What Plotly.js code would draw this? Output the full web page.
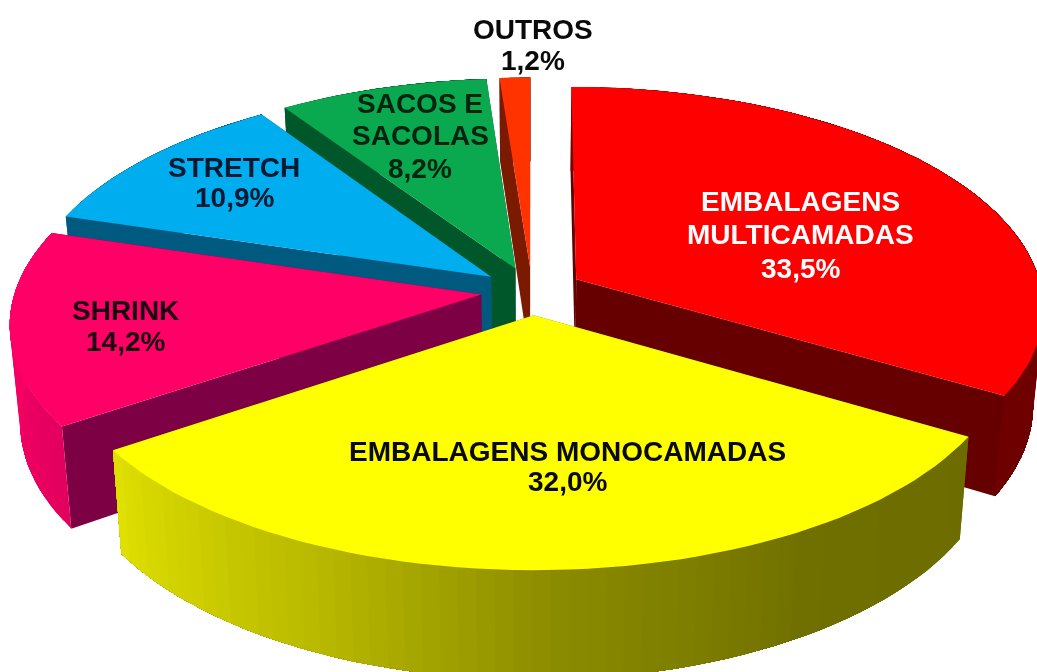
<!DOCTYPE html>
<html><head><meta charset="utf-8">
<script src="https://cdn.plot.ly/plotly-3.0.1.min.js"></script>
<style>html,body{margin:0;padding:0;background:#fff}#chart{width:1037px;height:672px;filter:blur(0.45px)}</style>
</head><body><div id="chart"></div>
<script>
// ---- data ----
const categories = ["EMBALAGENS MULTICAMADAS","EMBALAGENS MONOCAMADAS","SHRINK","STRETCH","SACOS E SACOLAS","OUTROS"];
const values = [33.5,32.0,14.2,10.9,8.2,1.2];
// ---- styles ----
const topColors = ["#ff0000","#ffff00","#ff0066","#00aeef","#0aa84f","#ff3300"];
const cutColors = ["#660000","#6e6e00","#7d0045","#005a80","#00582a","#7a1a00"];
const wallStops = [
  [[0,"#7a0000"],[1,"#6e0000"]],
  [[0,"#6c6c00"],[0.25,"#707000"],[0.5,"#8c8c00"],[0.72,"#b8b800"],[1,"#e0e000"]],
  [[0,"#e2005e"],[0.4,"#f20062"],[1,"#ff0066"]],
  [[0,"#005a80"],[1,"#005a80"]],
  [[0,"#00582a"],[1,"#00582a"]],
  [[0,"#7a1a00"],[1,"#7a1a00"]]
];
const drawOrder = [5,4,3,2,0,1];
const labelLines = [
  {i:0,x:800,y:[201,234],pct:268,color:"#ffffff",lines:["EMBALAGENS","MULTICAMADAS"]},
  {i:1,x:567,y:[451],pct:481,color:"#0a0a0a",lines:["EMBALAGENS MONOCAMADAS"]},
  {i:2,x:125,y:[310],pct:341,color:"#1a0010",lines:["SHRINK"]},
  {i:3,x:234,y:[167],pct:197,color:"#001a33",lines:["STRETCH"]},
  {i:4,x:420,y:[103,135],pct:168,color:"#00240f",lines:["SACOS E","SACOLAS"]},
  {i:5,x:533,y:[29],pct:60,color:"#0a0a0a",lines:["OUTROS"]}
];
// ---- view of the disc ----
const cx=532, cy=291, A=466, B=218, KX=0.125, KY=0.12, DEPTH=95, BOTTOM_SCALE=0.98, EXPLODE=0.11;

function project(u,v,down){
  const wx=1/(1-KX*v), wy=1/(1-KY*v);
  let x=cx+A*u*wx, y=cy+B*v*wy;
  if(down){ x=cx+(x-cx)*BOTTOM_SCALE; y+=DEPTH*wy; }
  return [x,y];
}
function hex(c){return [1,3,5].map(k=>parseInt(c.substr(k,2),16));}
function mix(stops,t){
  for(let k=1;k<stops.length;k++){
    if(t<=stops[k][0]){
      const f=(t-stops[k-1][0])/(stops[k][0]-stops[k-1][0]);
      const a=hex(stops[k-1][1]),b=hex(stops[k][1]);
      return "rgb("+a.map((q,n)=>Math.round(q+(b[n]-q)*f)).join(",")+")";
    }
  }
  return stops[stops.length-1][1];
}
const traces=[];
function poly(pts,color){
  traces.push({type:"scatter",mode:"lines",x:pts.map(p=>p[0]),y:pts.map(p=>p[1]),
    fill:"toself",fillcolor:color,line:{width:0},hoverinfo:"skip",showlegend:false});
}
const total=values.reduce((a,b)=>a+b,0);
const starts=[];let acc=0;
values.forEach(v=>{starts.push(acc);acc+=v;});
drawOrder.forEach(i=>{
  const a0=starts[i]/total*2*Math.PI, a1=(starts[i]+values[i])/total*2*Math.PI, m=(a0+a1)/2;
  const ou=EXPLODE*Math.sin(m), ov=-EXPLODE*Math.cos(m);
  const rim=a=>[ou+Math.sin(a),ov-Math.cos(a)];
  const apexTop=project(ou,ov,false), apexBot=project(ou,ov,true);
  const n=Math.max(2,Math.ceil((a1-a0)/(Math.PI/90)));
  const pts=[];for(let k=0;k<=n;k++){pts.push(rim(a0+(a1-a0)*k/n));}
  // cut faces
  [pts[0],pts[n]].forEach(r=>{
    poly([apexTop,project(r[0],r[1],false),project(r[0],r[1],true),apexBot,apexTop],cutColors[i]);
  });
  // outer wall: each band runs to the end of the arc, so the next band paints over it without seams
  for(let k=0;k<n;k++){
    const band=[];
    for(let j=k;j<=n;j++)band.push(project(pts[j][0],pts[j][1],false));
    for(let j=n;j>=k;j--)band.push(project(pts[j][0],pts[j][1],true));
    band.push(band[0]);
    poly(band,mix(wallStops[i],(k+0.5)/n));
  }
  // top
  const top=[apexTop].concat(pts.map(p=>project(p[0],p[1],false)));top.push(apexTop);
  poly(top,topColors[i]);
});
const annotations=[];
function note(text,x,y,color){
  annotations.push({text:text,x:x,y:y,xref:"x",yref:"y",showarrow:false,xanchor:"center",yanchor:"middle",
    font:{family:"Liberation Sans, Arial, sans-serif",size:28,weight:700,color:color}});
}
labelLines.forEach(l=>{
  l.lines.forEach((t,k)=>note(t,l.x,l.y[k],l.color));
  note(values[l.i].toFixed(1).replace(".",",")+"%",l.x,l.pct,l.color);
});
Plotly.newPlot("chart",traces,{
  width:1037,height:672,margin:{l:0,r:0,t:0,b:0},paper_bgcolor:"#fff",plot_bgcolor:"#fff",showlegend:false,
  xaxis:{range:[0,1037],visible:false,fixedrange:true},
  yaxis:{range:[672,0],visible:false,fixedrange:true},
  annotations:annotations
},{displayModeBar:false,staticPlot:true});
</script></body></html>
